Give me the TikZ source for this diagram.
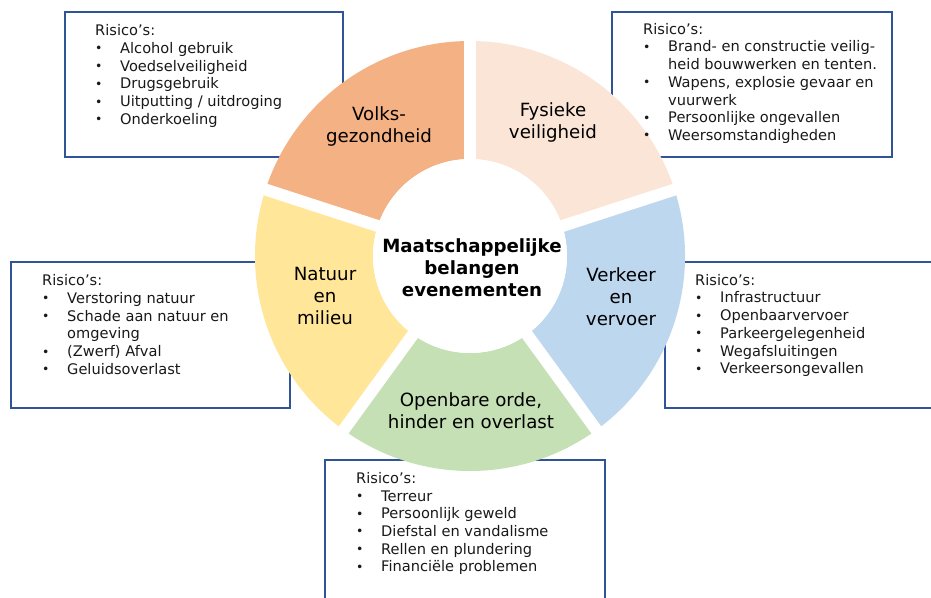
\documentclass[tikz,border=0pt]{standalone}
\usepackage{fontspec}
\setmainfont{DejaVu Sans}
\definecolor{cVolks}{HTML}{F4B183}
\definecolor{cFys}{HTML}{FBE5D6}
\definecolor{cVerk}{HTML}{BDD7EE}
\definecolor{cOpen}{HTML}{C5E0B4}
\definecolor{cNat}{HTML}{FFE699}
\definecolor{boxblue}{HTML}{2F5597}
\newcommand{\bul}[1]{\makebox[25pt][l]{\raisebox{0.5pt}{\scalebox{0.85}{•}}}#1}
\newcommand{\cont}[1]{\hspace*{25pt}#1}
\begin{document}
\begin{tikzpicture}[x=1pt,y=-1pt,
  riskbox/.style={draw=boxblue, line width=1.5pt, fill=white},
  risktext/.style={anchor=north west, inner sep=0pt, align=left,
    font=\fontsize{14.6}{17.7}\selectfont, text=black!90},
  seglabel/.style={align=center, inner sep=0pt, text=black,
    font=\fontsize{18.2}{22}\selectfont},
  centerlabel/.style={align=center, inner sep=0pt, text=black,
    font=\fontsize{18.2}{21.8}\selectfont\bfseries},
  gapline/.style={white, line width=12pt}
  ]
\useasboundingbox (0,0) rectangle (931,597);
\clip (0,0) rectangle (931,597);
\fill[white] (0,0) rectangle (931,597);

% risk boxes
\draw[riskbox] (65,12) rectangle (343,157);
\draw[riskbox] (612,12) rectangle (892,157);
\draw[riskbox] (11,262) rectangle (290,408);
\draw[riskbox] (665,262) rectangle (945,408);
\draw[riskbox] (325,460) rectangle (605,610);

% donut
\begin{scope}[shift={(470,256)}, yscale=-1]
  \fill[cFys]  (18:215)  arc[start angle=18,  end angle=90,  radius=215] -- (90:97)   arc[start angle=90,  end angle=18,  radius=97] -- cycle;
  \fill[cVolks](90:215)  arc[start angle=90,  end angle=162, radius=215] -- (162:97)  arc[start angle=162, end angle=90,  radius=97] -- cycle;
  \fill[cNat]  (162:215) arc[start angle=162, end angle=234, radius=215] -- (234:97)  arc[start angle=234, end angle=162, radius=97] -- cycle;
  \fill[cOpen] (234:215) arc[start angle=234, end angle=306, radius=215] -- (306:97)  arc[start angle=306, end angle=234, radius=97] -- cycle;
  \fill[cVerk] (306:215) arc[start angle=306, end angle=378, radius=215] -- (378:97)  arc[start angle=378, end angle=306, radius=97] -- cycle;
  \foreach \a in {18,90,162,234,306} \draw[gapline] (0,0) -- (\a:222);
  \fill[white] (0,0) circle (97);
\end{scope}

\node[risktext] (t1) at (95,24.5) {Risico’s:\\
  \bul{Alcohol gebruik}\\
  \bul{Voedselveiligheid}\\
  \bul{Drugsgebruik}\\
  \bul{Uitputting / uitdroging}\\
  \bul{Onderkoeling}};
\node[risktext] (t2) at (643,23) {Risico’s:\\
  \bul{Brand- en constructie veilig-}\\
  \cont{heid bouwwerken en tenten.}\\
  \bul{Wapens, explosie gevaar en}\\
  \cont{vuurwerk}\\
  \bul{Persoonlijke ongevallen}\\
  \bul{Weersomstandigheden}};
\node[risktext] (t3) at (42,274.5) {Risico’s:\\
  \bul{Verstoring natuur}\\
  \bul{Schade aan natuur en}\\
  \cont{omgeving}\\
  \bul{(Zwerf) Afval}\\
  \bul{Geluidsoverlast}};
\node[risktext] (t4) at (695,274) {Risico’s:\\
  \bul{Infrastructuur}\\
  \bul{Openbaarvervoer}\\
  \bul{Parkeergelegenheid}\\
  \bul{Wegafsluitingen}\\
  \bul{Verkeersongevallen}};
\node[risktext] (t5) at (356,472) {Risico’s:\\
  \bul{Terreur}\\
  \bul{Persoonlijk geweld}\\
  \bul{Diefstal en vandalisme}\\
  \bul{Rellen en plundering}\\
  \bul{Financiële problemen}};

\node[seglabel] (volks) at (379,126) {Volks-\\gezondheid};
\node[seglabel] (fys) at (553,122) {Fysieke\\veiligheid};
\node[seglabel] (verk) at (621,297) {Verkeer\\en\\vervoer};
\node[seglabel] (open) at (471,411) {Openbare orde,\\hinder en overlast};
\node[seglabel] (nat) at (325,296) {Natuur\\en\\milieu};
\node[centerlabel] (mid) at (472,268) {Maatschappelijke\\belangen\\evenementen};
\end{tikzpicture}
\end{document}
